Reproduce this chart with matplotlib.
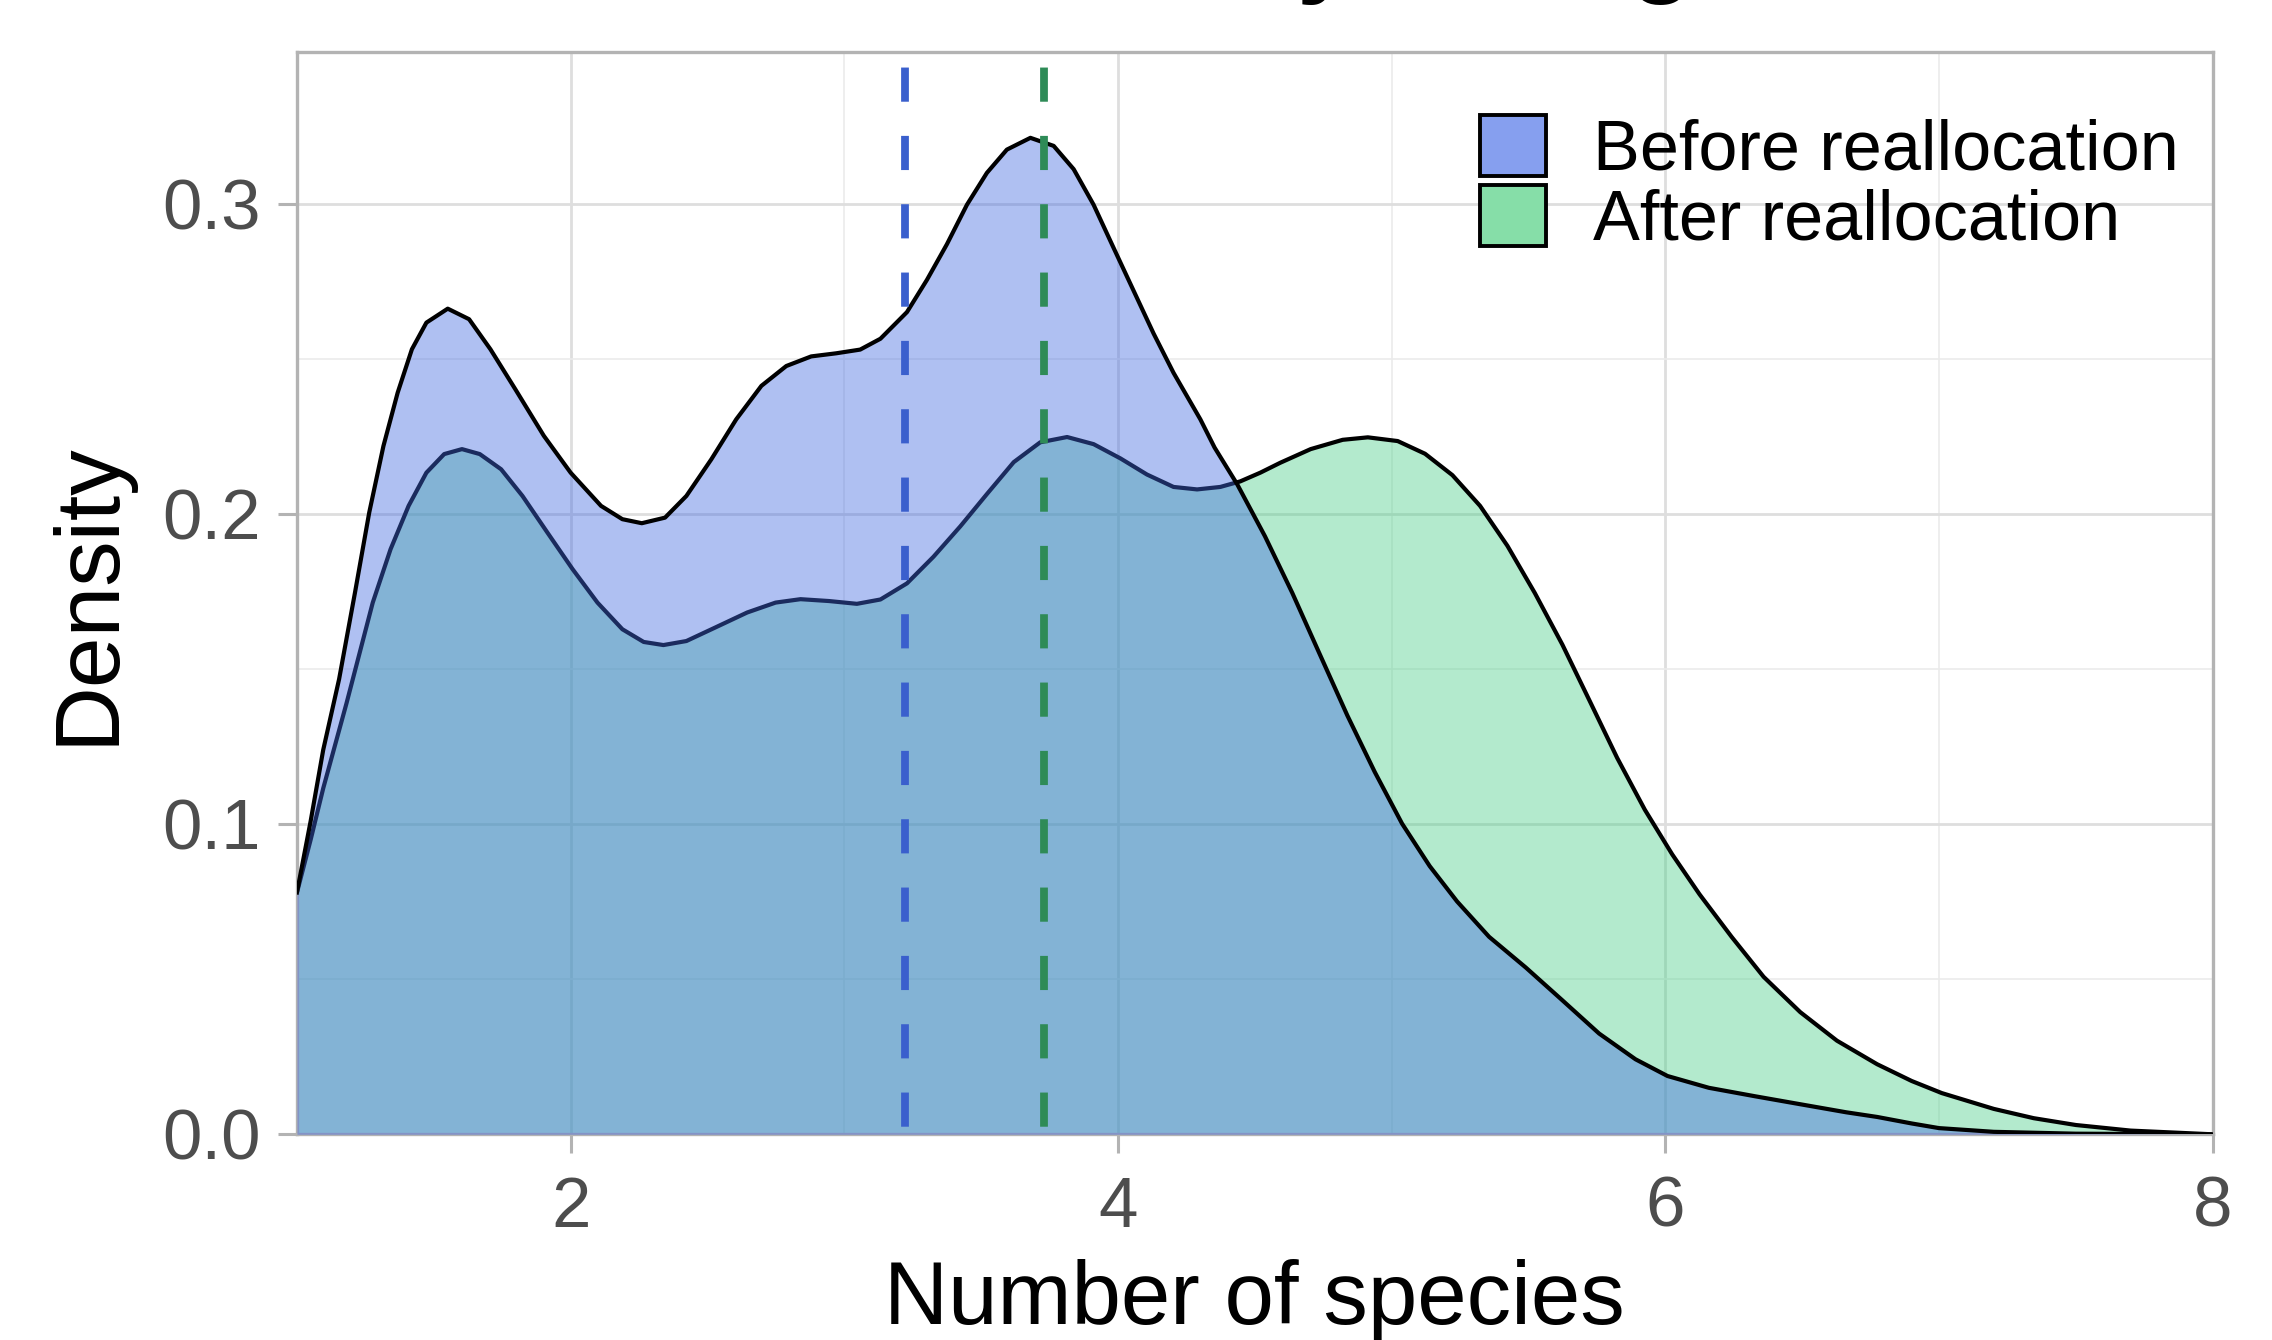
import matplotlib
matplotlib.use("Agg")
import matplotlib.pyplot as plt
from matplotlib.patches import Patch
from matplotlib.ticker import MultipleLocator

plt.rcParams['font.family'] = ['Liberation Sans', 'DejaVu Sans']
plt.rcParams['lines.scale_dashes'] = False

# density curves
before_x = [1.0, 1.05, 1.096, 1.154, 1.212, 1.264, 1.316, 1.368, 1.42, 1.473, 1.551, 1.629,
            1.707, 1.798, 1.902, 2.0, 2.111, 2.189, 2.26, 2.345, 2.423, 2.514, 2.605, 2.697,
            2.788, 2.879, 2.97, 3.058, 3.132, 3.229, 3.302, 3.375, 3.448, 3.521, 3.594, 3.68,
            3.765, 3.838, 3.911, 3.984, 4.057, 4.13, 4.203, 4.301, 4.353, 4.436, 4.537, 4.637,
            4.737, 4.838, 4.938, 5.038, 5.139, 5.239, 5.356, 5.49, 5.624, 5.758, 5.891, 6.008,
            6.159, 6.326, 6.493, 6.661, 6.774, 6.9, 7.0, 7.2, 7.5, 8.0]
before_y = [0.078, 0.101, 0.124, 0.1468, 0.1747, 0.2005, 0.222, 0.2392, 0.2532, 0.2618, 0.2663, 0.2629,
            0.2532, 0.2403, 0.2253, 0.2134, 0.2027, 0.1984, 0.1971, 0.1989, 0.2059, 0.2177, 0.2306, 0.2414,
            0.2478, 0.2509, 0.2519, 0.2531, 0.2566, 0.2652, 0.2756, 0.2871, 0.2998, 0.3101, 0.3176, 0.3214,
            0.3188, 0.3113, 0.2998, 0.2859, 0.2721, 0.2583, 0.2456, 0.2306, 0.2215, 0.2096, 0.1929, 0.1746,
            0.1549, 0.1351, 0.1169, 0.1002, 0.0865, 0.0751, 0.0637, 0.0538, 0.0432, 0.0325, 0.0242, 0.0188,
            0.015, 0.0123, 0.0097, 0.0071, 0.0056, 0.0035, 0.002, 0.0008, 0.0002, 0.0]

after_x = [1.0, 1.05, 1.096, 1.181, 1.277, 1.342, 1.408, 1.473, 1.538, 1.603, 1.668, 1.746,
           1.824, 1.915, 2.007, 2.098, 2.189, 2.267, 2.339, 2.423, 2.527, 2.645, 2.749, 2.84,
           2.944, 3.046, 3.132, 3.229, 3.326, 3.424, 3.521, 3.619, 3.716, 3.814, 3.911, 4.009,
           4.106, 4.203, 4.289, 4.374, 4.447, 4.52, 4.593, 4.704, 4.821, 4.913, 5.022, 5.122,
           5.222, 5.323, 5.423, 5.523, 5.624, 5.724, 5.824, 5.925, 6.025, 6.125, 6.242, 6.359,
           6.493, 6.627, 6.774, 6.9, 7.01, 7.2, 7.346, 7.5, 7.7, 8.0]
after_y = [0.078, 0.095, 0.1116, 0.139, 0.1715, 0.1887, 0.2027, 0.2134, 0.2194, 0.221, 0.2194, 0.2145,
           0.2059, 0.1941, 0.1823, 0.1715, 0.1629, 0.1588, 0.1578, 0.1591, 0.1634, 0.1683, 0.1715, 0.1726,
           0.172, 0.1711, 0.1725, 0.1777, 0.1863, 0.1961, 0.2065, 0.2168, 0.2232, 0.2249, 0.2226, 0.218,
           0.2128, 0.2088, 0.208, 0.2088, 0.2106, 0.2134, 0.2166, 0.221, 0.224, 0.2248, 0.2236, 0.2195,
           0.2126, 0.2027, 0.1898, 0.1746, 0.1579, 0.1397, 0.1214, 0.1047, 0.0903, 0.0774, 0.0637, 0.0508,
           0.0394, 0.0302, 0.0226, 0.0172, 0.0133, 0.0082, 0.0052, 0.003, 0.0012, 0.0]

mean_before = 3.22
mean_after = 3.73

labels = ["Before reallocation", "After reallocation"]
title = "Diversity change"

fig = plt.figure(figsize=(11.36, 6.7), dpi=200)
ax = fig.add_axes([0.1307, 0.1535, 0.8432, 0.8075])

ax.fill_between(after_x, 0, after_y, color='#4ACF88', alpha=0.42, linewidth=0, zorder=2)
ax.plot(after_x, after_y, color='black', lw=1.5, zorder=2, solid_joinstyle='round')
ax.fill_between(before_x, 0, before_y, color='#4169E1', alpha=0.42, linewidth=0, zorder=3)
ax.plot(before_x, before_y, color='black', lw=1.5, zorder=3, solid_joinstyle='round')

# dashed mean lines, drawn top -> bottom so the dash pattern starts at the top
vtrans = ax.get_xaxis_transform()
ax.plot([mean_before, mean_before], [1, 0], transform=vtrans, color='#3A5FCD', lw=2.8,
        linestyle=(19, (12.3, 12.3)), zorder=4)
ax.plot([mean_after, mean_after], [1, 0], transform=vtrans, color='#2E8B57', lw=2.8,
        linestyle=(19, (12.3, 12.3)), zorder=4)

ax.set_xlim(1, 8)
ax.set_ylim(0, 0.349)
ax.xaxis.set_major_locator(MultipleLocator(2))
ax.xaxis.set_minor_locator(MultipleLocator(1))
ax.yaxis.set_major_locator(MultipleLocator(0.1))
ax.yaxis.set_minor_locator(MultipleLocator(0.05))
ax.set_yticks([0.0, 0.1, 0.2, 0.3])
ax.set_yticklabels(["0.0", "0.1", "0.2", "0.3"])

ax.set_axisbelow(True)
ax.grid(which='major', color='#DEDEDE', lw=1.0)
ax.grid(which='minor', color='#EBEBEB', lw=0.6)
for s in ax.spines.values():
    s.set_color('#B3B3B3')
    s.set_linewidth(1.2)
ax.tick_params(which='major', length=7, width=1.1, color='#B3B3B3', labelsize=25.5,
               labelcolor='#4D4D4D')
ax.tick_params(axis='y', pad=6)
ax.tick_params(axis='x', pad=8)
ax.tick_params(which='minor', length=0)

ax.set_xlabel("Number of species", fontsize=32, labelpad=6)
ax.set_ylabel("Density", fontsize=32.8, labelpad=11)

handles = [Patch(facecolor='#869FEF', edgecolor='black', linewidth=1.4),
           Patch(facecolor='#86DEA8', edgecolor='black', linewidth=1.4)]
ax.legend(handles, labels, loc='upper left', bbox_to_anchor=(0.6514, 0.9144),
          bbox_transform=fig.transFigure, frameon=False, fontsize=25.3,
          handlelength=0.94, handleheight=0.97, labelspacing=0.0, handletextpad=0.67,
          borderpad=0, borderaxespad=0)

fig.text(0.5863, 1.013, title, fontsize=37.8, fontweight='bold', ha='center', va='baseline')

fig.savefig("out.png", dpi=200)
